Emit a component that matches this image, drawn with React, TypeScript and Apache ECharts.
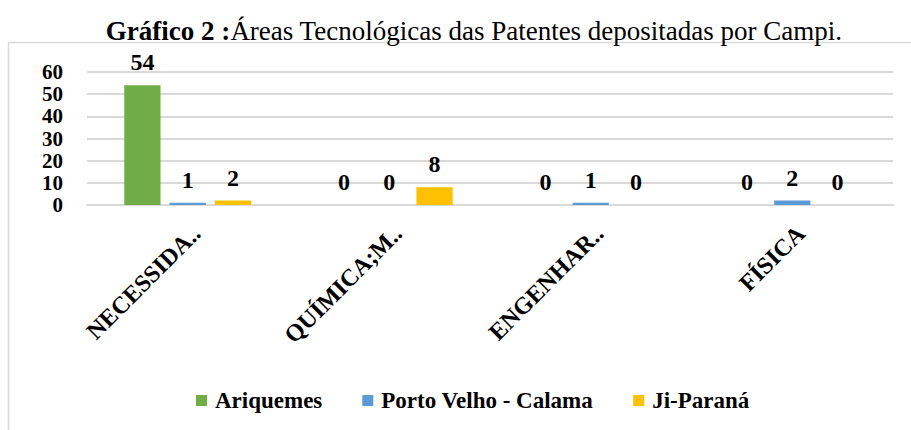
import React, { useEffect, useRef } from "react";
import * as echarts from "echarts";

const categories = ["NECESSIDA..", "QUÍMICA;M..", "ENGENHAR..", "FÍSICA"];
const ariquemes = [54, 0, 0, 0];
const portoVelho = [1, 0, 1, 2];
const jiParana = [2, 8, 0, 0];
const seriesNames = ["Ariquemes", "Porto Velho - Calama", "Ji-Paraná"];
const colors = ["#70AD47", "#5B9BD5", "#FFC000"];

const FONT = "'Liberation Serif', 'Times New Roman', serif";

export default function App() {
  const ref = useRef<HTMLDivElement>(null);
  useEffect(() => {
    if (!ref.current) return;
    const chart = echarts.init(ref.current, undefined, { renderer: "svg" });
    const dataSets = [ariquemes, portoVelho, jiParana];
    const labelStyle = {
      show: true,
      position: "top" as const,
      distance: 11,
      fontFamily: FONT,
      fontWeight: "bold" as const,
      fontSize: 24,
      color: "#000",
    };
    chart.setOption({
      animation: false,
      color: colors,
      textStyle: { fontFamily: FONT },
      title: {
        text: "{b|Gráfico 2 :}{n|Áreas Tecnológicas das Patentes depositadas por Campi.}",
        left: 469,
        textAlign: "center",
        top: 12,
        textStyle: {
          rich: {
            b: { fontFamily: FONT, fontWeight: "bold", fontSize: 27, color: "#000" },
            n: { fontFamily: FONT, fontWeight: "normal", fontSize: 27, color: "#000" },
          },
        },
      },
      graphic: [
        {
          type: "rect",
          shape: { x: 8.5, y: 42.5, width: 930, height: 420 },
          style: { fill: "none", stroke: "#d9d9d9", lineWidth: 1.5 },
          silent: true,
        },
      ],
      legend: {
        data: seriesNames,
        left: 191,
        top: 384,
        icon: "rect",
        itemWidth: 11,
        itemHeight: 11,
        itemGap: 40,
        textStyle: { fontFamily: FONT, fontWeight: "bold", fontSize: 23, color: "#000", padding: [0, 0, 0, 3] },
      },
      grid: { left: 87, right: 18, top: 72, bottom: 225, containLabel: false },
      xAxis: {
        type: "category",
        data: categories,
        axisLine: { lineStyle: { color: "#d9d9d9", width: 2 } },
        axisTick: { show: false },
        axisLabel: {
          rotate: 45,
          margin: 16,
          interval: 0,
          verticalAlign: "top",
          fontFamily: FONT,
          fontWeight: "bold",
          fontSize: 24,
          color: "#000",
        },
      },
      yAxis: {
        type: "value",
        min: 0,
        max: 60,
        interval: 10,
        axisLine: { show: false },
        axisTick: { show: false },
        splitLine: { lineStyle: { color: "#d9d9d9", width: 2 } },
        axisLabel: {
          margin: 24,
          showMinLabel: true,
          showMaxLabel: true,
          fontFamily: FONT,
          fontWeight: "bold",
          fontSize: 21,
          color: "#000",
        },
      },
      series: dataSets.map((d, i) => ({
        name: seriesNames[i],
        type: "bar",
        data: d,
        barGap: "25%",
        barCategoryGap: "37%",
        itemStyle: { color: colors[i] },
        label: labelStyle,
      })),
    });
    return () => chart.dispose();
  }, []);
  return (
    <div
      ref={ref}
      style={{ position: "fixed", left: 0, top: 0, width: 911, height: 430, background: "#fff" }}
    />
  );
}
